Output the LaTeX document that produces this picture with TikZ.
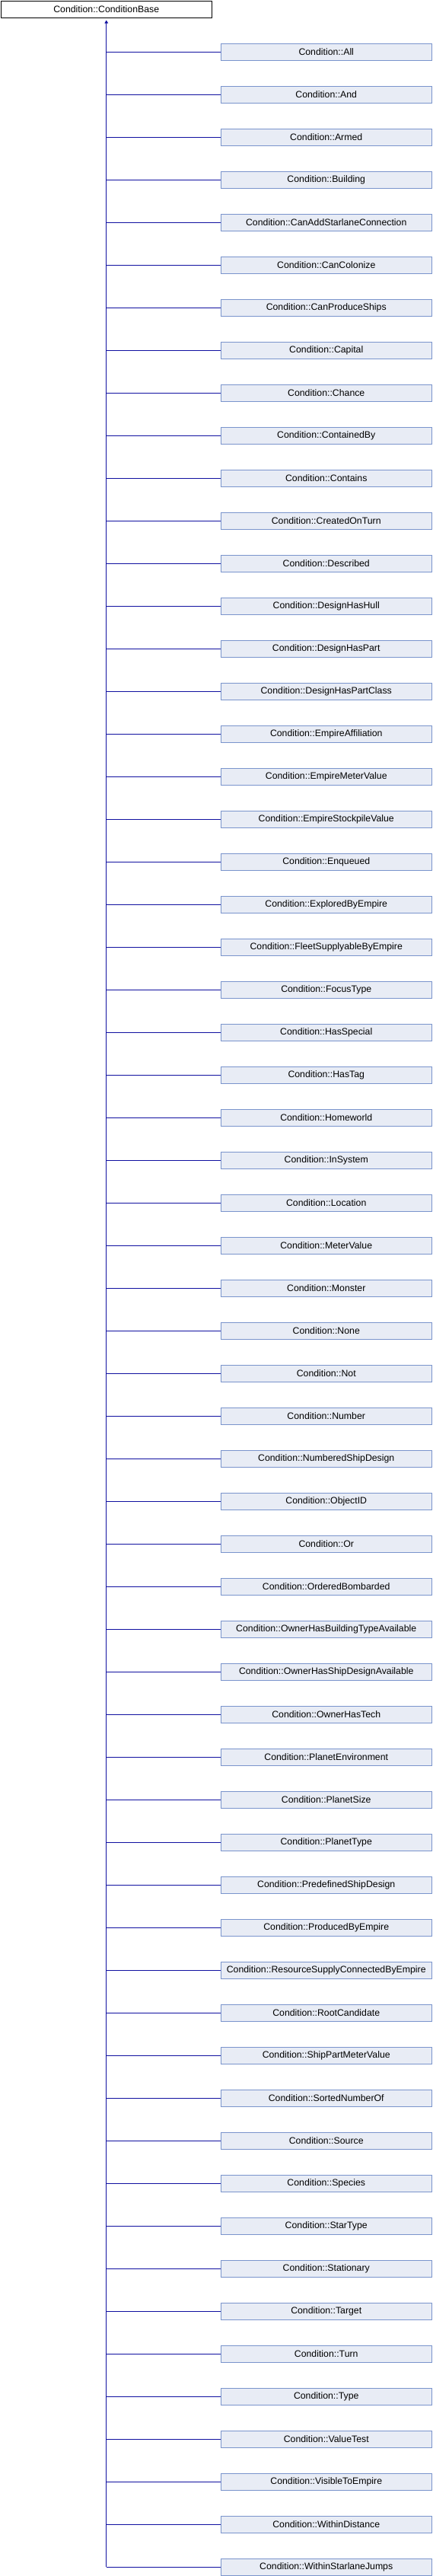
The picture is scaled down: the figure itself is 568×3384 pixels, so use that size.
\documentclass[tikz,border=0pt]{standalone}
\usepackage{fontspec}
\setmainfont{Liberation Sans}
\usetikzlibrary{arrows.meta}
\definecolor{edgeblue}{HTML}{1010A0}
\definecolor{boxfill}{HTML}{E8ECF5}
\definecolor{boxline}{HTML}{7A94CC}
\tikzset{
  classbox/.style={draw=boxline,fill=boxfill,line width=1pt,minimum width=277.5pt,
    minimum height=22.5pt,inner sep=0pt,anchor=north west,font=\fontsize{12.3}{14}\selectfont},
  basebox/.style={classbox,draw=black,fill=white},
  inherit/.style={edgeblue,line width=1pt}
}
\begin{document}
\begin{tikzpicture}[x=1pt,y=-1pt]
  \useasboundingbox (0,0) rectangle (568,3384);
  \node[basebox] (base) at (0.5,0.5) {Condition::ConditionBase};
  % derived classes
  \foreach \name [count=\i] in {All,And,Armed,Building,CanAddStarlaneConnection,CanColonize,
    CanProduceShips,Capital,Chance,ContainedBy,Contains,CreatedOnTurn,Described,DesignHasHull,
    DesignHasPart,DesignHasPartClass,EmpireAffiliation,EmpireMeterValue,EmpireStockpileValue,
    Enqueued,ExploredByEmpire,FleetSupplyableByEmpire,FocusType,HasSpecial,HasTag,Homeworld,
    InSystem,Location,MeterValue,Monster,None,Not,Number,NumberedShipDesign,ObjectID,Or,
    OrderedBombarded,OwnerHasBuildingTypeAvailable,OwnerHasShipDesignAvailable,OwnerHasTech,
    PlanetEnvironment,PlanetSize,PlanetType,PredefinedShipDesign,ProducedByEmpire,
    ResourceSupplyConnectedByEmpire,RootCandidate,ShipPartMeterValue,SortedNumberOf,Source,
    Species,StarType,Stationary,Target,Turn,Type,ValueTest,VisibleToEmpire,WithinDistance,
    WithinStarlaneJumps}{
    \node[classbox] (c\i) at (289.5,{56.5+56*(\i-1)}) {Condition::\name};
    \draw[inherit] (base.south |- c\i.west) -- (c\i.west);
  }
  \draw[inherit,-{Triangle[length=4pt,width=4.5pt]},shorten >=2.5pt] (base.south |- c60.west) -- (base.south);
\end{tikzpicture}
\end{document}
